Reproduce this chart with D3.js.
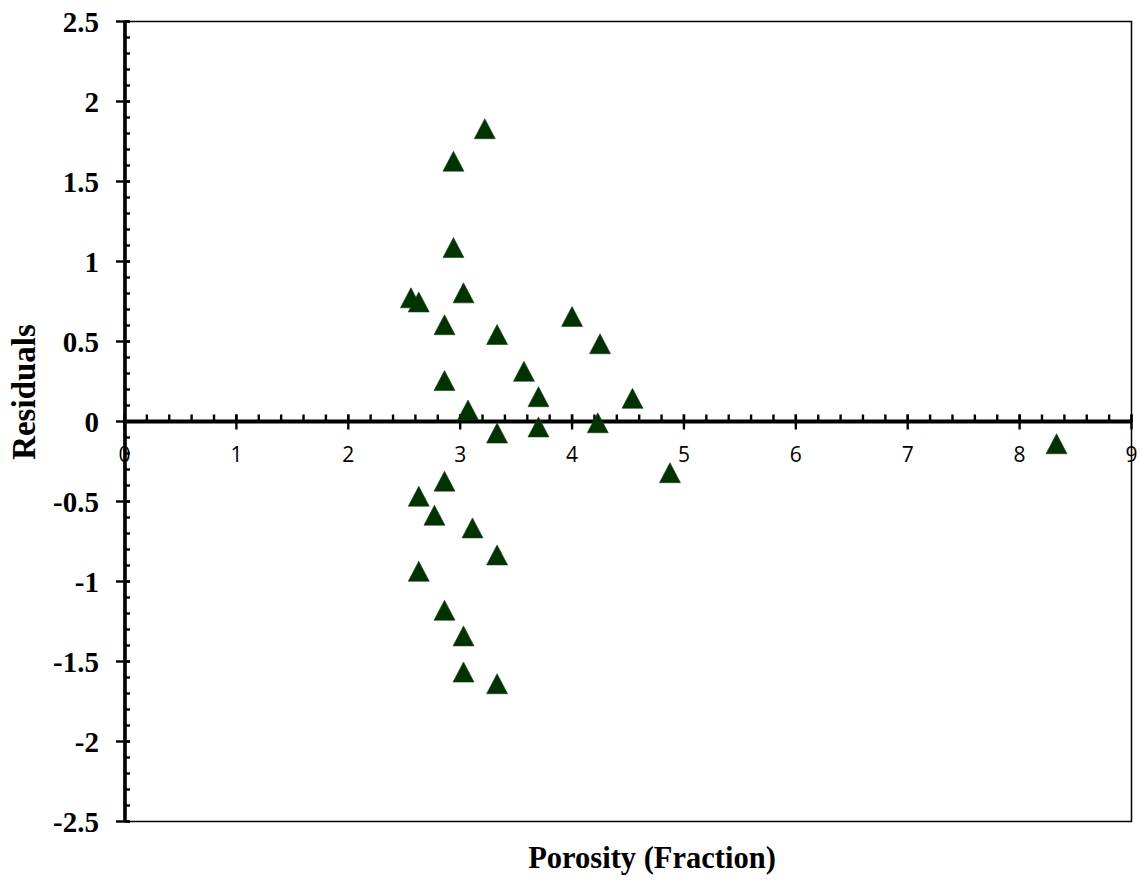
<!DOCTYPE html>
<html>
<head>
<meta charset="utf-8">
<script src="https://cdn.jsdelivr.net/npm/d3@7"></script>
<style>
  html, body { margin: 0; padding: 0; background: #fff; }
  svg { display: block; }
</style>
</head>
<body>
<svg id="chart" width="1140" height="882"></svg>
<script>
// Porosity (fraction) vs. residuals
const porosity = [3.22, 2.94, 2.94, 2.56, 2.63, 3.03, 2.86, 3.33, 4.00, 4.25,
                  3.57, 2.86, 3.70, 4.54, 3.07, 3.33, 3.70, 4.23, 4.875, 8.33,
                  2.86, 2.63, 2.77, 3.11, 3.33, 2.63, 2.86, 3.03, 3.03, 3.33];
const residuals = [1.83, 1.627, 1.087, 0.773, 0.747, 0.804, 0.605, 0.544, 0.657, 0.486,
                   0.314, 0.256, 0.155, 0.145, 0.072, -0.072, -0.034, -0.008, -0.32, -0.139,
                   -0.373, -0.467, -0.586, -0.665, -0.834, -0.936, -1.18, -1.34, -1.566, -1.639];

const xTicks = [0, 1, 2, 3, 4, 5, 6, 7, 8, 9];
const yTicks = [2.5, 2, 1.5, 1, 0.5, 0, -0.5, -1, -1.5, -2, -2.5];
const yTickLabels = ["2.5", "2", "1.5", "1", "0.5", "0", "-0.5", "-1", "-1.5", "-2", "-2.5"];
const xTitle = "Porosity (Fraction)";
const yTitle = "Residuals";

const svg = d3.select("#chart");
const x = d3.scaleLinear().domain([0, 9]).range([124.5, 1131.5]);
const y = d3.scaleLinear().domain([-2.5, 2.5]).range([821.5, 21.5]);

// plot frame
svg.append("rect")
  .attr("x", x(0)).attr("y", y(2.5))
  .attr("width", x(9) - x(0)).attr("height", y(-2.5) - y(2.5))
  .attr("fill", "none").attr("stroke", "#000").attr("stroke-width", 1.5);

// y axis: minor ticks every 0.1 on the inside, major ticks every 0.5 crossing
const yAxisX = 125;
const yMinor = d3.range(-25, 26).map(d => d / 10);
svg.append("g").selectAll("line").data(yMinor).join("line")
  .attr("x1", yAxisX).attr("x2", yAxisX + 5)
  .attr("y1", d => y(d)).attr("y2", d => y(d))
  .attr("stroke", "#000").attr("stroke-width", 2.4);
svg.append("g").selectAll("line").data(yTicks).join("line")
  .attr("x1", yAxisX - 9).attr("x2", yAxisX + 5)
  .attr("y1", d => y(d)).attr("y2", d => y(d))
  .attr("stroke", "#000").attr("stroke-width", 2.4);
svg.append("line")
  .attr("x1", yAxisX).attr("x2", yAxisX)
  .attr("y1", y(2.5)).attr("y2", y(-2.5))
  .attr("stroke", "#000").attr("stroke-width", 3.6);

// x axis at zero: minor ticks every 0.2 above, major ticks crossing
const xAxisY = y(0);
const xMinor = d3.range(0, 46).map(d => d / 5);
svg.append("g").selectAll("line").data(xMinor).join("line")
  .attr("x1", d => x(d)).attr("x2", d => x(d))
  .attr("y1", xAxisY - 7).attr("y2", xAxisY)
  .attr("stroke", "#000").attr("stroke-width", 2.4);
svg.append("g").selectAll("line").data(xTicks).join("line")
  .attr("x1", d => x(d)).attr("x2", d => x(d))
  .attr("y1", xAxisY - 7).attr("y2", xAxisY + 8)
  .attr("stroke", "#000").attr("stroke-width", 2.4);
svg.append("line")
  .attr("x1", x(0)).attr("x2", x(9))
  .attr("y1", xAxisY).attr("y2", xAxisY)
  .attr("stroke", "#000").attr("stroke-width", 4);

// tick labels
svg.append("g").selectAll("text").data(yTicks).join("text")
  .attr("x", 99).attr("y", d => y(d))
  .attr("dy", "0.35em")
  .attr("text-anchor", "end")
  .attr("font-family", "'Liberation Serif', 'Times New Roman', serif")
  .attr("font-weight", "bold").attr("font-size", 29)
  .text((d, i) => yTickLabels[i]);

svg.append("g").selectAll("text").data(xTicks).join("text")
  .attr("x", d => x(d)).attr("y", 455)
  .attr("dy", "0.35em")
  .attr("text-anchor", "middle")
  .attr("font-family", "'Open Sans', 'Noto Sans', sans-serif")
  .attr("font-size", 21)
  .text(d => d);

// axis titles
svg.append("text")
  .attr("x", 652).attr("y", 868)
  .attr("text-anchor", "middle")
  .attr("font-family", "'Liberation Serif', 'Times New Roman', serif")
  .attr("font-weight", "bold").attr("font-size", 30.5)
  .text(xTitle);

svg.append("text")
  .attr("transform", "translate(35,392) rotate(-90)")
  .attr("text-anchor", "middle")
  .attr("font-family", "'Liberation Serif', 'Times New Roman', serif")
  .attr("font-weight", "bold").attr("font-size", 33)
  .text(yTitle);

// triangle markers
const data = porosity.map((p, i) => ({ p, r: residuals[i] }));
const tri = "M0,-10 L10.5,10 L-10.5,10 Z";
svg.append("g").selectAll("path").data(data).join("path")
  .attr("d", tri)
  .attr("transform", d => `translate(${x(d.p)},${y(d.r)})`)
  .attr("fill", "#003300")
  .attr("stroke", "#1a3d1a").attr("stroke-width", 0.6);
</script>
</body>
</html>
